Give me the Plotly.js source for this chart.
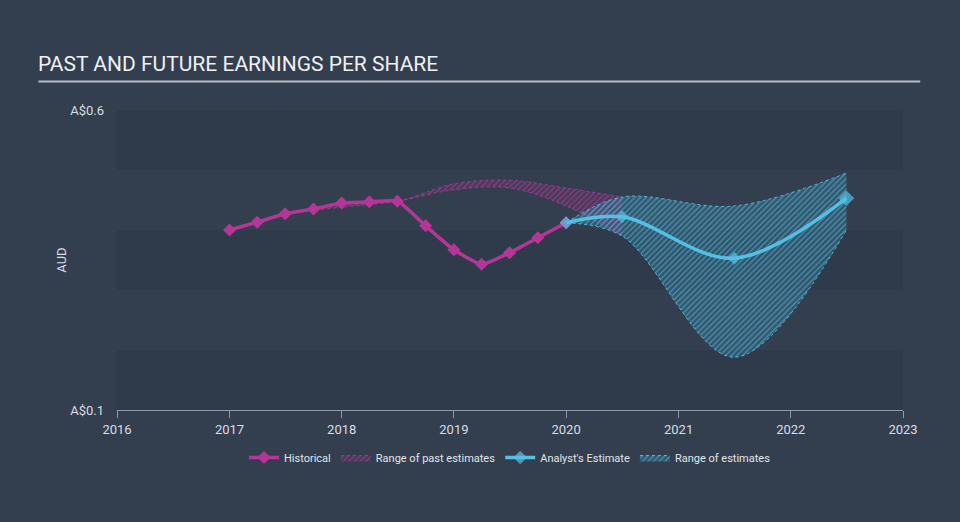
<!DOCTYPE html>
<html>
<head>
<meta charset="utf-8">
<script src="https://cdn.plot.ly/plotly-3.0.1.min.js"></script>
<style>
  html, body { margin: 0; padding: 0; background: #333f4f; }
  #plot { width: 960px; height: 522px; }
</style>
</head>
<body>
<div id="plot"></div>
<script>
// historico trimestral
var histDates = ['2017-01-01', '2017-04-01', '2017-07-01', '2017-10-01', '2018-01-01', '2018-04-01',
    '2018-07-01', '2018-10-01', '2019-01-01', '2019-04-01', '2019-07-01', '2019-10-01', '2020-01-01'];
var histEps = [0.400, 0.413, 0.427, 0.435, 0.445, 0.447, 0.448, 0.407, 0.367, 0.343, 0.362, 0.387, 0.412];

// rango de estimaciones pasadas
var pastDates = ['2017-07-01', '2018-01-01', '2018-07-01', '2019-01-01', '2019-07-01', '2020-01-01', '2020-07-01'];
var pastHigh = [0.427, 0.443, 0.448, 0.477, 0.483, 0.470, 0.455];
var pastLow = [0.427, 0.438, 0.448, 0.467, 0.470, 0.440, 0.390];

// estimaciones de analistas
var estDates = ['2020-01-01', '2020-07-01', '2021-07-01', '2022-07-01'];
var estEps = [0.412, 0.422, 0.353, 0.453];
var estHigh = [0.412, 0.455, 0.440, 0.495];
var estLow = [0.412, 0.390, 0.188, 0.400];

var yTicks = [0.1, 0.6];
var yTickText = ['A$0.1', 'A$0.6'];

(function (document, window) {

    var magenta = 'rgb(181, 54, 152)';
    var cyan = 'rgb(84, 192, 228)';

    // las lineas van en y2 para quedar encima de los rangos
    var historico = {
        name: 'Historical', x: histDates, y: histEps, yaxis: 'y2', type: 'scatter', mode: 'lines+markers', legendrank: 1,
        line: { color: magenta, width: 3.5, shape: 'spline', smoothing: 0.5 },
        marker: { symbol: 'diamond', size: 10, color: magenta, line: { width: 0 } }
    };
    var pastLowTrace = {
        x: pastDates, y: pastLow, type: 'scatter', mode: 'lines', showlegend: false, hoverinfo: 'skip',
        line: { color: 'rgba(181, 54, 152, 0.8)', width: 1, dash: 'dot', shape: 'spline' }
    };
    var pastHighTrace = {
        name: 'Range of past estimates', x: pastDates, y: pastHigh, type: 'scatter', mode: 'lines',
        fill: 'tonexty', legendrank: 2,
        fillpattern: { shape: '/', fgcolor: 'rgba(181, 54, 152, 0.7)', bgcolor: 'rgba(181, 54, 152, 0.12)', size: 4, solidity: 0.3 },
        line: { color: 'rgba(181, 54, 152, 0.8)', width: 1, dash: 'dot', shape: 'spline' }
    };
    var analistas = {
        name: "Analyst's Estimate", x: estDates, y: estEps, yaxis: 'y2', type: 'scatter', mode: 'lines+markers', legendrank: 3,
        line: { color: cyan, width: 3.5, shape: 'spline' },
        marker: { symbol: 'diamond', size: [10, 10, 10, 12], color: cyan, line: { width: 0 } }
    };
    var estLowTrace = {
        x: estDates, y: estLow, type: 'scatter', mode: 'lines', showlegend: false, hoverinfo: 'skip',
        line: { color: 'rgba(84, 192, 228, 0.9)', width: 1, dash: 'dot', shape: 'spline' }
    };
    var estHighTrace = {
        name: 'Range of estimates', x: estDates, y: estHigh, type: 'scatter', mode: 'lines',
        fill: 'tonexty', legendrank: 4,
        fillpattern: { shape: '/', fgcolor: 'rgba(84, 192, 228, 0.6)', bgcolor: 'rgba(60, 160, 200, 0.25)', size: 4, solidity: 0.3 },
        line: { color: 'rgba(84, 192, 228, 0.9)', width: 1, dash: 'dot', shape: 'spline' }
    };

    // bandas horizontales
    var bandas = [];
    [[0.5, 0.6], [0.3, 0.4], [0.1, 0.2]].forEach(function (b) {
        bandas.push({ type: 'rect', xref: 'paper', yref: 'y', x0: 0, x1: 1, y0: b[0], y1: b[1],
            fillcolor: 'rgba(30, 40, 52, 0.15)', line: { width: 0 }, layer: 'below' });
    });
    bandas.push({ type: 'line', xref: 'paper', yref: 'paper', x0: -0.1, x1: 1.022, y0: 1.095, y1: 1.095,
        line: { color: '#b8bec6', width: 2 } });

    var layout = {
        width: 960, height: 522,
        margin: { l: 117, r: 57, t: 110, b: 112 },
        paper_bgcolor: '#333f4f',
        plot_bgcolor: 'rgba(0,0,0,0)',
        font: { family: 'Roboto, sans-serif', color: '#d8dde3', size: 12 },
        showlegend: true,
        legend: { orientation: 'h', x: 0.5, xanchor: 'center', y: -0.11, yanchor: 'top', traceorder: 'normal',
            font: { size: 11, color: '#e0e4e8' }, itemwidth: 30, bgcolor: 'rgba(0,0,0,0)' },
        xaxis: {
            type: 'date', range: ['2016-01-01', '2023-01-01'], dtick: 'M12', tickformat: '%Y',
            showgrid: false, zeroline: false, showline: true, linecolor: '#8f9aa6', linewidth: 1,
            ticks: 'outside', ticklen: 7, tickcolor: '#8f9aa6', tickfont: { size: 13, color: '#d8dde3' },
            fixedrange: true
        },
        yaxis: {
            range: [0.1, 0.6], tickvals: yTicks, ticktext: yTickText, showgrid: false, zeroline: false,
            showline: false, ticks: '', ticklabelstandoff: 12, tickfont: { size: 13, color: '#d8dde3' },
            title: { text: 'AUD', font: { size: 13, color: '#d8dde3' }, standoff: 0 },
            fixedrange: true
        },
        yaxis2: { range: [0.1, 0.6], overlaying: 'y', visible: false, fixedrange: true },
        shapes: bandas,
        annotations: [{
            text: 'PAST AND FUTURE EARNINGS PER SHARE', xref: 'paper', yref: 'paper',
            x: -0.103, y: 1.105, xanchor: 'left', yanchor: 'bottom', showarrow: false,
            font: { size: 21, color: '#eef0f2', family: 'Roboto, sans-serif' }
        }]
    };

    document.addEventListener('DOMContentLoaded', function () {
        Plotly.newPlot('plot', [historico, pastLowTrace, pastHighTrace, analistas, estLowTrace, estHighTrace],
            layout, { displayModeBar: false, staticPlot: true });
    });

})(document, window);
</script>
</body>
</html>
